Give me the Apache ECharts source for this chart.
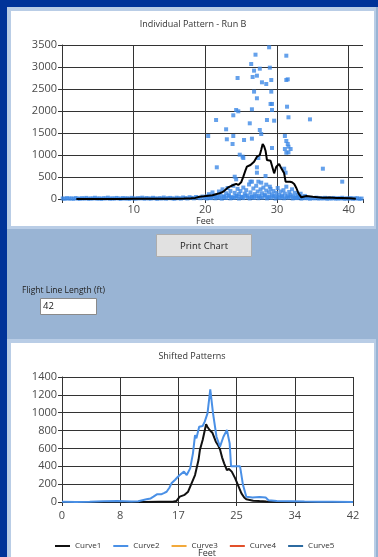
<!DOCTYPE html>
<html>
<head>
<meta charset="utf-8">
<script src="https://cdn.jsdelivr.net/npm/echarts@6.0.0/dist/echarts.min.js"></script>
<style>
  html, body { margin: 0; padding: 0; background: #99b4d4; }
  #main { width: 378px; height: 557px; }
</style>
</head>
<body>
<div id="main"></div>
<script>
// ---- Run B: individual deposit readings [feet, value] ----
const baselineReadings = [
  [0.1,12],[0.4,5],[0.7,20],[1.0,8],[1.3,15],[1.6,3],[1.9,22],[2.2,10],[2.5,6],[2.8,18],
  [3.1,9],[3.4,25],[3.7,4],[4.0,14],[4.3,11],[4.6,28],[4.9,7],[5.2,16],[5.5,2],[5.8,19],
  [6.1,12],[6.4,30],[6.7,6],[7.0,15],[7.3,9],[7.6,24],[7.9,13],[8.2,5],[8.5,21],[8.8,10],
  [9.1,17],[9.4,3],[9.7,26],[10.0,11],[10.3,8],[10.6,19],[10.9,14],[11.2,30],[11.5,6],[11.8,22],
  [12.1,12],[12.4,9],[12.7,27],[13.0,15],[13.3,4],[13.6,20],[13.9,11],[14.2,33],[14.5,8],[14.8,18],
  [15.1,25],[15.4,13],[15.7,6],[16.0,29],[16.3,17],[16.6,10],[16.9,35],[17.2,21],[17.5,12],[17.8,40],
  [18.1,26],[18.4,15],[18.7,45],[19.0,30],[19.3,18],[19.6,55],[19.9,24],[20.2,12],[20.5,38],[20.8,20],
  [21.1,60],[21.4,15],[21.7,42],[22.0,28],[22.3,8],[22.6,50],[22.9,22],[23.2,70],[23.5,14],[23.8,36],
  [24.1,26],[24.4,58],[24.7,10],[25.0,44],[25.3,20],[25.6,75],[25.9,32],[26.2,12],[26.5,48],[26.8,24],
  [27.1,65],[27.4,18],[27.7,40],[28.0,30],[28.3,80],[28.6,14],[28.9,52],[29.2,26],[29.5,62],[29.8,10],
  [30.1,45],[30.4,22],[30.7,70],[31.0,16],[31.3,38],[31.6,28],[31.9,55],[32.2,12],[32.5,34],[32.8,20],
  [33.1,42],[33.4,8],[33.7,30],[34.0,18],[34.3,25],[34.6,6],[34.9,22],[35.2,14],[35.5,30],[35.8,9],
  [36.1,20],[36.4,12],[36.7,26],[37.0,5],[37.3,18],[37.6,10],[37.9,24],[38.2,7],[38.5,16],[38.8,11],
  [39.1,28],[39.4,4],[39.7,15],[40.0,9],[40.3,20],[40.6,6],[40.9,13],[41.2,18],[41.5,3],[41.8,10]
];

const clusterReadings = [
  [20.2,60],[20.5,110],[20.8,35],[21.0,150],[21.3,80],[21.6,40],[21.9,170],[22.1,95],[22.4,220],[22.6,60],
  [22.9,130],[23.1,250],[23.3,90],[23.5,180],[23.7,40],[23.9,300],[24.1,140],[24.3,70],[24.5,230],[24.7,110],
  [24.9,180],[25.1,50],[25.3,260],[25.5,120],[25.7,200],[25.9,80],[26.1,330],[26.3,150],[26.5,60],[26.7,240],
  [26.9,110],[27.1,300],[27.3,170],[27.5,70],[27.7,220],[27.9,130],[28.1,260],[28.3,90],[28.5,190],[28.7,40],
  [28.9,150],[29.1,230],[29.3,100],[29.5,180],[29.7,60],[29.9,140],[30.1,250],[30.3,90],[30.5,170],[30.7,50],
  [30.9,200],[31.1,120],[31.3,280],[31.5,70],[31.7,160],[31.9,100],[32.1,220],[32.3,60],[32.5,140],[32.7,30],
  [32.9,90],[33.1,50],[33.3,120],[33.6,40],[33.9,70],[34.3,20]
];

const peakReadings = [
  [28.9,3448],[27.0,3280],[31.3,3257],[26.4,3068],[26.8,2917],[27.6,2962],[29.0,2985],[24.5,2750],[26.6,2773],[27.2,2803],
  [27.9,2652],[28.5,2614],[29.2,2705],[31.3,2705],[31.5,2720],[26.8,2440],[29.2,2440],[27.2,2289],[29.1,2160],[29.3,2160],
  [29.3,2023],[24.3,2023],[24.6,1993],[26.5,2039],[31.4,2098],[21.5,1796],[23.9,1902],[28.6,1796],[29.6,1780],[31.6,1857],
  [34.6,1810],[26.2,1720],[20.4,1432],[22.9,1584],[23.9,1432],[27.6,1568],[27.8,1477],[23.0,1357],[23.8,1250],[25.4,1341],
  [26.5,1371],[31.1,1432],[31.3,1318],[31.6,1189],[31.1,1136],[31.9,1136],[29.3,1159],[31.3,1052],[24.8,1007],[25.3,932],
  [21.6,720],[27.4,932],[27.2,598],[28.4,523],[31.0,689],[31.2,598],[36.4,689],[39.1,394],[24.1,507],[24.3,447],
  [26.3,394],[26.5,394],[27.4,394],[27.8,371],[28.5,326],[29.0,280],[25.2,962],[27.2,720],[31.5,1250],[31.6,1060]
];

// running average of Run B
const runAverage = [
  [2,0],[4,0],[6,0],[8,2],[10,3],[12,4],[14,5],[16,8],[17,10],[18,15],[18.6,25],[19.2,50],[19.8,60],[20.4,75],
  [21,85],[21.6,114],[22,130],[22.5,167],[23.2,265],[23.9,318],[24.3,345],[24.6,320],[24.8,280],[25.0,380],
  [25.3,507],[25.6,650],[25.8,734],[26.3,773],[26.8,848],[27.2,962],[27.6,1000],[27.8,1120],[28.0,1250],
  [28.2,1200],[28.4,1098],[28.6,886],[29.1,871],[29.4,700],[29.6,583],[29.9,734],[30.3,795],[30.6,697],
  [31.0,583],[31.2,394],[31.8,394],[32.1,380],[32.4,341],[32.7,250],[33.0,129],[33.4,38],[34.1,68],[35.0,52],
  [36.4,30],[37.3,35],[38.3,23],[39,25],[40.2,15],[41,5]
];

// ---- Shifted patterns ----
const curveNames = ['Curve1', 'Curve2', 'Curve3', 'Curve4', 'Curve5'];
const curve1 = [
  [0,0],[4,0],[8,0],[12,0],[14,2],[16,3],[16.5,10],[17.0,60],[17.7,80],[18.2,115],[18.7,209],[19.2,302],
  [19.7,470],[19.9,582],[20.3,694],[20.6,800],[20.8,870],[21.0,840],[21.3,806],[21.7,776],[22.2,675],[22.5,640],
  [22.8,590],[23.1,500],[23.4,433],[23.8,358],[24.1,370],[24.5,340],[25.0,265],[25.4,190],[25.9,97],[26.3,50],
  [26.6,30],[27.6,15],[28.5,10],[29.5,5],[31,2],[35,0],[42,0]
];
const curve2 = [
  [0,2],[2,0],[4,3],[6,8],[8,10],[10,5],[11,8],[12.2,30],[12.8,40],[13.2,60],[13.7,86],[14.3,86],[14.7,100],
  [15.1,115],[15.5,160],[15.8,209],[16.3,246],[16.7,280],[17.0,302],[17.6,340],[18.0,302],[18.5,377],[18.9,545],
  [19.2,750],[19.4,713],[19.8,843],[20.3,851],[20.6,900],[21.0,993],[21.4,1262],[21.8,993],[22.3,731],[22.8,619],
  [23.3,731],[23.8,806],[24.2,657],[24.4,400],[25.0,400],[25.7,400],[26.1,200],[26.6,60],[27.5,50],[28.5,55],
  [29.4,50],[29.8,20],[31,10],[33,8],[35,5],[37,3],[39,2],[42,0]
];
const curve3 = [];
const curve4 = [];
const curve5 = [];
const curveColors = ['#111111', '#4a90e6', '#f2a93b', '#e2502a', '#2c6aa0'];

// tick labels
const runTickLabels = ['', '10', '20', '30', '40', ''];
const shiftedTickLabels = ['0', '8', '17', '25', '34', '42'];

const FONT = "'Open Sans', 'DejaVu Sans', sans-serif";
const GRID = '#333333';
const LABEL = '#4a4a4a';

function valueAxis(extra) {
  return Object.assign({
    type: 'value',
    axisLine: { show: true, lineStyle: { color: GRID, width: 1 } },
    axisTick: { show: true, length: 4, lineStyle: { color: GRID, width: 1 } },
    splitLine: { show: true, lineStyle: { color: GRID, width: 1 } },
    axisLabel: { color: LABEL, fontSize: 11, fontFamily: FONT }
  }, extra);
}

const plainNumber = v => String(v);

const chart = echarts.init(document.getElementById('main'), null, { renderer: 'canvas', width: 378, height: 557 });

const option = {
  animation: false,
  backgroundColor: '#99b4d4',
  textStyle: { fontFamily: FONT },
  title: [
    { text: 'Individual Pattern - Run B', left: 193, top: 19, textAlign: 'center', padding: 0,
      textStyle: { fontSize: 9, fontWeight: 'normal', color: '#333', fontFamily: FONT, lineHeight: 10 } },
    { text: 'Shifted Patterns', left: 192, top: 351, textAlign: 'center', padding: 0,
      textStyle: { fontSize: 9, fontWeight: 'normal', color: '#333', fontFamily: FONT, lineHeight: 10 } }
  ],
  grid: [
    { left: 62, top: 45, width: 301, height: 154 },
    { left: 62, top: 377, width: 291, height: 125 }
  ],
  xAxis: [
    valueAxis({ gridIndex: 0, min: 0, max: 42, interval: 10,
      splitLine: { show: true, showMaxLine: false, lineStyle: { color: GRID, width: 1 } },
      axisLabel: { color: LABEL, fontSize: 11, fontFamily: FONT, margin: 5,
        formatter: (v, i) => runTickLabels[i] || '' } }),
    valueAxis({ gridIndex: 1, min: 0, max: 42, interval: 8.4,
      axisLabel: { color: LABEL, fontSize: 11, fontFamily: FONT, margin: 8,
        formatter: (v, i) => shiftedTickLabels[i] || '' } })
  ],
  yAxis: [
    valueAxis({ gridIndex: 0, min: 0, max: 3500, interval: 500,
      axisLabel: { color: LABEL, fontSize: 11, fontFamily: FONT, margin: 5, formatter: plainNumber } }),
    valueAxis({ gridIndex: 1, min: 0, max: 1400, interval: 200,
      axisLabel: { color: LABEL, fontSize: 11, fontFamily: FONT, margin: 5, formatter: plainNumber } })
  ],
  legend: {
    data: curveNames, left: 50, top: 537, icon: 'rect', itemWidth: 15, itemHeight: 2, itemGap: 12,
    textStyle: { fontSize: 8, color: '#333', fontFamily: FONT }
  },
  graphic: [
    // window frame
    { type: 'rect', z: -20, shape: { x: 0, y: 0, width: 378, height: 7 }, style: { fill: '#003399' } },
    { type: 'rect', z: -20, shape: { x: 0, y: 0, width: 7, height: 557 }, style: { fill: '#003399' } },
    // top chart panel
    { type: 'rect', z: -19, shape: { x: 7, y: 7, width: 369, height: 222 }, style: { fill: '#b9cde6' } },
    { type: 'rect', z: -18, shape: { x: 11, y: 11, width: 363, height: 215 }, style: { fill: '#ffffff' } },
    // bottom chart panel
    { type: 'rect', z: -19, shape: { x: 7, y: 339, width: 369, height: 218 }, style: { fill: '#b9cde6' } },
    { type: 'rect', z: -18, shape: { x: 11, y: 343, width: 363, height: 214 }, style: { fill: '#ffffff' } },
    // axis captions
    { type: 'text', z: 5, style: { x: 205, y: 221, text: 'Feet', textAlign: 'center', textVerticalAlign: 'middle',
      fontSize: 9, fill: '#333', fontFamily: FONT } },
    { type: 'text', z: 5, style: { x: 207, y: 553, text: 'Feet', textAlign: 'center', textVerticalAlign: 'middle',
      fontSize: 9, fill: '#333', fontFamily: FONT } },
    // print button
    { type: 'rect', z: 5, shape: { x: 156.5, y: 234.5, width: 95, height: 22 },
      style: { fill: '#e1e1e1', stroke: '#adadad', lineWidth: 1 } },
    { type: 'text', z: 6, style: { x: 204, y: 246, text: 'Print Chart', textAlign: 'center', textVerticalAlign: 'middle',
      fontSize: 9.5, fill: '#222', fontFamily: FONT } },
    // flight line length input
    { type: 'text', z: 5, style: { x: 22, y: 291, text: 'Flight Line Length (ft)', textAlign: 'left', textVerticalAlign: 'middle',
      fontSize: 8.5, fill: '#222', fontFamily: FONT } },
    { type: 'rect', z: 5, shape: { x: 40.5, y: 298.5, width: 56, height: 16 },
      style: { fill: '#ffffff', stroke: '#8a8a8a', lineWidth: 1 } },
    { type: 'text', z: 6, style: { x: 43, y: 306.5, text: '42', textAlign: 'left', textVerticalAlign: 'middle',
      fontSize: 9.5, fill: '#222', fontFamily: FONT } }
  ],
  series: [
    { type: 'scatter', xAxisIndex: 0, yAxisIndex: 0, symbol: 'rect', symbolSize: 4, silent: true,
      itemStyle: { color: '#3f8ae6' },
      data: baselineReadings.concat(clusterReadings, peakReadings) },
    { type: 'line', xAxisIndex: 0, yAxisIndex: 0, showSymbol: false, silent: true, z: 3,
      lineStyle: { color: '#000', width: 2 }, itemStyle: { color: '#000' }, data: runAverage },
    ...[curve1, curve2, curve3, curve4, curve5].map((d, i) => ({
      name: curveNames[i], type: 'line', xAxisIndex: 1, yAxisIndex: 1, showSymbol: false, silent: true,
      lineStyle: { color: curveColors[i], width: 2 }, itemStyle: { color: curveColors[i] }, data: d
    }))
  ]
};

chart.setOption(option);
</script>
</body>
</html>
